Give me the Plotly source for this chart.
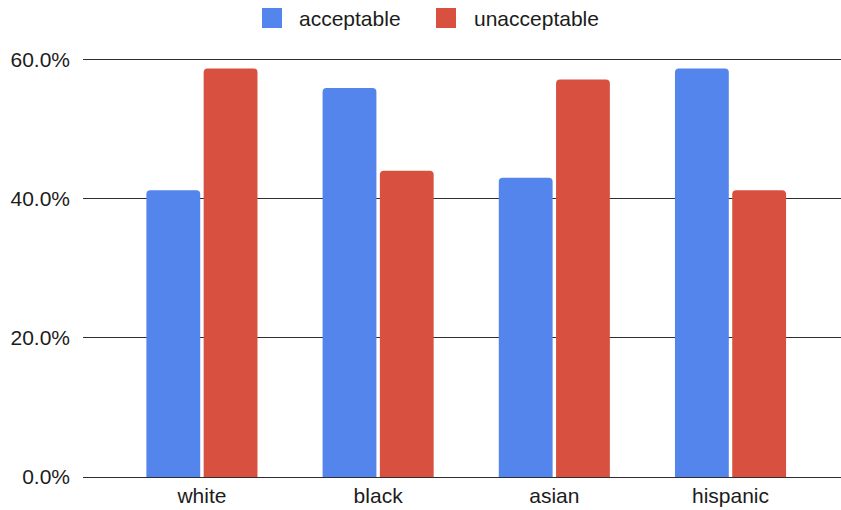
import plotly.graph_objects as go

# Survey responses by group (share of respondents, %)
groups = ["white", "black", "asian", "hispanic"]
acceptable = [41.2, 55.9, 43.0, 58.7]
unacceptable = [58.7, 44.0, 57.1, 41.2]
y_ticks = [0, 20, 40, 60]
y_tick_labels = ["0.0%", "20.0%", "40.0%", "60.0%"]

BLUE = "#5385EC"
RED = "#D85140"
TEXT = "#1c1c1c"
FONT = "Liberation Sans, Arial, sans-serif"
W, H = 841, 510
ML, MR, MT, MB = 83, 0, 58, 33

fig = go.Figure()
fig.add_trace(go.Bar(name="acceptable", x=groups, y=acceptable,
                     marker=dict(color=BLUE, line=dict(width=0)), showlegend=False))
fig.add_trace(go.Bar(name="unacceptable", x=groups, y=unacceptable,
                     marker=dict(color=RED, line=dict(width=0)), showlegend=False))

# Custom legend: swatches plus labels along the top
def px_x(p):
    return (p - ML) / (W - ML - MR)

def px_y(p):
    return 1 - (p - MT) / (H - MT - MB)

legend_items = [("acceptable", BLUE, 262, 297), ("unacceptable", RED, 436, 472)]
for label, color, sx, tx in legend_items:
    fig.add_shape(type="rect", xref="paper", yref="paper",
                  x0=px_x(sx), x1=px_x(sx + 20), y0=px_y(28), y1=px_y(8),
                  fillcolor=color, line=dict(width=0), layer="above")
    fig.add_annotation(text=label, xref="paper", yref="paper",
                       x=px_x(tx), y=px_y(18), xanchor="left", yanchor="middle",
                       showarrow=False, font=dict(family=FONT, size=21, color=TEXT))

fig.update_layout(
    width=W, height=H,
    margin=dict(l=ML, r=MR, t=MT, b=MB, pad=0),
    paper_bgcolor="white", plot_bgcolor="white",
    barmode="group", bargap=0.35, bargroupgap=0.06, barcornerradius=4,
    font=dict(family=FONT, size=21, color=TEXT),
    xaxis=dict(type="category", range=[-0.675, 3.627], showgrid=False,
               showline=True, linecolor="#2e2e2e", linewidth=1,
               ticks="", tickfont=dict(size=21, color=TEXT)),
    yaxis=dict(range=[0, 60.2], tickvals=y_ticks, ticktext=y_tick_labels,
               showgrid=True, gridcolor="#2e2e2e", gridwidth=1,
               zeroline=False, showline=False, ticks="",
               ticklabelstandoff=12, tickfont=dict(size=21, color=TEXT)),
)

fig.write_html("out.html")
